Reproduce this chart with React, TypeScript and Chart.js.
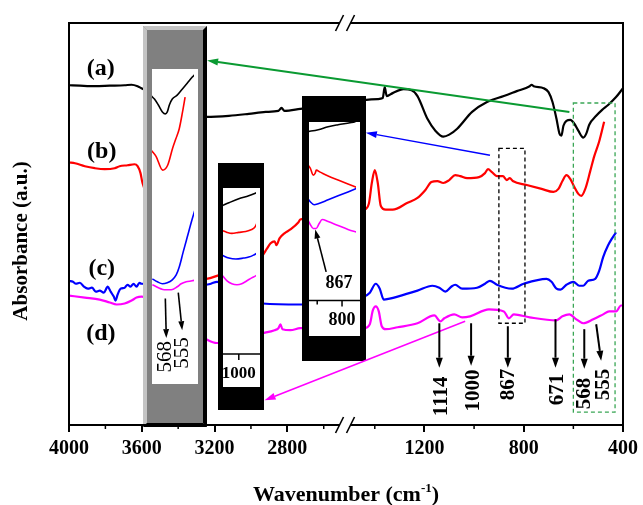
import React, { useEffect, useRef } from 'react';
import { Chart, registerables } from 'chart.js';

Chart.register(...registerables);

const FONT = '"Liberation Serif", "Times New Roman", serif';

// ---------- broken wavenumber axis ----------
const SEG_LEFT = [4000, 2483];
const SEG_RIGHT = [1520, 400];
const SPLIT = 278 / 558;

const MAJOR_TICKS = [4000, 3600, 3200, 2800, 1200, 800, 400];
const MAJOR_LABELS = ['4000', '3600', '3200', '2800', '1200', '800', '400'];
const MINOR_TICKS = [3800, 3400, 3000, 2600, 1400, 1000, 600];

// ---------- main spectra (wavenumber cm-1 / absorbance a.u.) ----------
const W_A = [4000, 3940, 3858, 3776, 3694, 3656, 3623, 3602, 3247, 3121, 3012, 2919, 2849, 2832, 2816, 2729,
  1444, 1388, 1368, 1360, 1352, 1328, 1284, 1252, 1228, 1188, 1156, 1124, 1100, 1068, 1008, 948, 880, 828, 776, 768,
  760, 720, 700, 684, 668, 656, 648, 640, 628, 612, 596, 580, 560, 548, 536, 508, 484, 460, 428, 400];
const A_A = [3.44, 3.435, 3.43, 3.435, 3.44, 3.445, 3.43, 3.41, 3.12, 3.13, 3.15, 3.17, 3.18, 3.21, 3.18, 3.20,
  3.29, 3.30, 3.31, 3.42, 3.33, 3.36, 3.40, 3.39, 3.33, 3.10, 2.98, 2.92, 2.94, 3.00, 3.17, 3.27, 3.33, 3.38, 3.43, 3.445,
  3.43, 3.41, 3.37, 3.27, 3.10, 2.95, 2.93, 3.03, 3.08, 3.09, 3.05, 2.98, 2.91, 2.95, 3.04, 3.13, 3.19, 3.24, 3.32, 3.41];

const W_B = [4000, 3967, 3913, 3858, 3804, 3749, 3722, 3678, 3640, 3623, 3607, 3596, 3247, 3220, 3187,
  2936, 2914, 2892, 2870, 2860, 2843, 2816, 2783, 2740, 2729,
  1444, 1424, 1412, 1400, 1388, 1376, 1356, 1328, 1268, 1228, 1196, 1172, 1148, 1124, 1100, 1076, 1056, 1028, 980, 956,
  944, 928, 908, 884, 868, 856, 844, 788, 728, 680, 660, 644, 628, 612, 596, 580, 568, 552, 532, 516, 496, 476];
const A_B = [2.66, 2.65, 2.62, 2.60, 2.59, 2.60, 2.62, 2.63, 2.64, 2.62, 2.55, 2.45, 1.48, 1.49, 1.51,
  1.72, 1.78, 1.84, 1.86, 1.82, 1.89, 1.94, 1.98, 2.05, 2.08,
  2.18, 2.24, 2.45, 2.58, 2.45, 2.22, 2.18, 2.18, 2.25, 2.30, 2.38, 2.46, 2.47, 2.45, 2.48, 2.53, 2.52, 2.50, 2.51, 2.55,
  2.59, 2.56, 2.52, 2.52, 2.48, 2.50, 2.47, 2.43, 2.39, 2.36, 2.39, 2.47, 2.53, 2.49, 2.41, 2.34, 2.32, 2.39, 2.57, 2.72, 2.87, 3.07];

const W_C = [4000, 3978, 3962, 3940, 3918, 3896, 3874, 3853, 3831, 3809, 3787, 3771, 3754, 3744, 3733, 3716, 3694, 3678,
  3662, 3645, 3629, 3613, 3602, 3247, 3220, 3187, 2936, 2729,
  1444, 1420, 1396, 1380, 1364, 1340, 1308, 1228, 1168, 1140, 1116, 1092, 1076, 1048, 988, 956, 936, 908, 848, 800,
  708, 688, 668, 652, 628, 600, 576, 560, 540, 512, 496, 480, 460, 444, 428];
const A_C = [1.46, 1.45, 1.43, 1.44, 1.40, 1.38, 1.39, 1.35, 1.36, 1.34, 1.40, 1.35, 1.30, 1.26, 1.32, 1.38, 1.39, 1.42,
  1.40, 1.43, 1.40, 1.44, 1.43, 1.42, 1.43, 1.45, 1.23, 1.22,
  1.30, 1.34, 1.43, 1.38, 1.27, 1.28, 1.30, 1.36, 1.41, 1.39, 1.35, 1.40, 1.42, 1.38, 1.39, 1.43, 1.46, 1.42, 1.38, 1.43,
  1.48, 1.45, 1.38, 1.37, 1.42, 1.45, 1.41, 1.41, 1.46, 1.48, 1.56, 1.70, 1.82, 1.89, 1.95];

const W_D = [4000, 3913, 3831, 3776, 3738, 3694, 3656, 3629, 3602, 3247, 3187, 2936, 2870, 2849, 2838, 2827, 2783, 2729,
  1444, 1420, 1408, 1396, 1384, 1372, 1356, 1308, 1228, 1160, 1136, 1120, 1080, 1048, 1016, 940, 880, 860, 840, 776,
  668, 644, 616, 588, 560, 520, 480, 456, 428, 408, 400];
const A_D = [1.31, 1.29, 1.27, 1.24, 1.22, 1.23, 1.26, 1.29, 1.30, 0.87, 0.83, 0.93, 0.96, 0.98, 1.02, 0.97, 0.96, 0.98,
  0.98, 1.02, 1.16, 1.20, 1.15, 1.00, 0.97, 0.99, 1.03, 1.11, 1.05, 1.08, 1.12, 1.09, 1.10, 1.17, 1.15, 1.08, 1.12, 1.09,
  1.06, 1.10, 1.12, 1.07, 1.03, 1.07, 1.12, 1.15, 1.15, 1.21, 1.21];

const SERIES_LABELS = ['(a)', '(b)', '(c)', '(d)'];
const SERIES_COLORS = ['#000000', '#ff0000', '#0000ff', '#ff00ff'];
const LABEL_W = [3825, 3820, 3820, 3825];
const LABEL_A = [3.61, 2.77, 1.58, 0.92];

// ---------- peak markers ----------
const PEAK_LABELS = ['1114', '1000', '867', '671', '568', '555'];
const PEAK_TAIL_W = [1140, 1012, 864, 672, 556, 508];
const PEAK_TAIL_A = [1.03, 1.03, 1.00, 1.07, 0.97, 1.02];
const PEAK_HEAD_W = [1140, 1012, 864, 672, 556, 488];
const PEAK_HEAD_A = [0.58, 0.60, 0.58, 0.58, 0.57, 0.65];
const PEAK_TEXT_W = [1132, 1004, 860, 664, 556, 480];
const PEAK_TEXT_A = [0.29, 0.35, 0.41, 0.36, 0.32, 0.41];

// ---------- zoom regions & pointers ----------
const ZOOM_BOX_W = [[900, 795], [600, 432]];
const ZOOM_BOX_A = [[2.80, 1.03], [3.26, 0.13]];
const ZOOM_BOX_COLORS = ['#000000', '#3aa655'];
const POINTER_TAIL_W = [616, 936, 1036];
const POINTER_TAIL_A = [3.17, 2.73, 1.05];
const POINTER_HEAD_W = [3241, 1436, 2925];
const POINTER_HEAD_A = [3.69, 2.96, 0.25];
const POINTER_COLORS = ['#0a9a32', '#0000ff', '#ff00ff'];

// ---------- inset: 600-500 region (grey frame) ----------
const GW_A = [579.4, 576.9, 573.7, 570.4, 568, 566.4, 564.7, 562.3, 558.3, 554.2, 550.1, 546.1, 542];
const GA_A = [3.33, 3.30, 3.24, 3.17, 3.15, 3.17, 3.24, 3.30, 3.34, 3.40, 3.46, 3.52, 3.57];
const GW_B = [579.4, 575.6, 570.2, 566.1, 562.1, 559.3, 556.6, 553.9, 551.8];
const GA_B = [2.78, 2.72, 2.58, 2.63, 2.80, 2.90, 3.00, 3.17, 3.32];
const GW_C = [578.6, 574.5, 570.4, 566.4, 562.3, 559.1, 556.6, 553.4, 550.1, 546.1, 542];
const GA_C = [1.48, 1.45, 1.43, 1.44, 1.47, 1.52, 1.60, 1.75, 1.90, 2.08, 2.25];
const GW_D = [578.6, 568.8, 563.1, 558.2, 555, 550.9, 546.1, 542.8];
const GA_D = [1.42, 1.37, 1.37, 1.40, 1.43, 1.45, 1.46, 1.47];
const G_MARK_LABELS = ['568', '555'];
const G_MARK_TAIL_W = [568, 557.4];
const G_MARK_TAIL_A = [1.28, 1.34];
const G_MARK_HEAD_W = [567.2, 554.2];
const G_MARK_HEAD_A = [0.88, 0.96];
const G_MARK_TEXT_W = [567.6, 553.8];
const G_MARK_TEXT_A = [0.69, 0.73];

// ---------- inset: ~1000 region (small black frame) ----------
const SW_A = [1046, 1027, 1000, 973, 946];
const SA_A = [2.22, 2.25, 2.29, 2.32, 2.36];
const SW_B = [1046, 1032, 1019, 1000, 981, 965, 957, 951, 946];
const SA_B = [1.97, 1.95, 1.94, 1.95, 1.96, 1.98, 2.00, 2.04, 2.08];
const SW_C = [1046, 1027, 1008, 987, 973, 960, 946];
const SA_C = [1.72, 1.69, 1.68, 1.69, 1.70, 1.72, 1.75];
const SW_D = [1046, 1032, 1019, 1005, 992, 978, 965, 954, 946];
const SA_D = [1.52, 1.46, 1.43, 1.42, 1.43, 1.46, 1.49, 1.51, 1.53];
const S_TICKS = [1000];
const S_TICK_LABELS = ['1000'];
const S_MINOR: number[] = [];

// ---------- inset: ~867 region (large black frame) ----------
const LW_A = [870, 848, 828, 808, 784, 774, 768];
const LA_A = [2.97, 2.99, 3.02, 3.04, 3.06, 3.07, 3.09];
const LW_B = [870, 864, 858, 854, 852, 844, 828, 808, 788, 768];
const LA_B = [2.64, 2.60, 2.53, 2.55, 2.58, 2.56, 2.52, 2.48, 2.44, 2.40];
const LW_C = [870, 864, 856, 848, 828, 808, 788, 768];
const LA_C = [2.30, 2.26, 2.23, 2.24, 2.28, 2.32, 2.36, 2.40];
const LW_D = [870, 864, 858, 852, 846, 840, 828, 808, 788, 768];
const LA_D = [2.09, 2.03, 1.99, 1.99, 2.04, 2.08, 2.06, 2.02, 1.98, 1.95];
const L_TICKS = [900, 800];
const L_TICK_LABELS = ['900', '800'];
const L_MINOR = [850];
const L_MARK_TAIL = [832, 1.55];
const L_MARK_HEAD = [854, 1.98];
const L_MARK_TEXT = [806, 1.43];

// ---------- layout (pixels) ----------
const PLOT = { left: 69, right: 627, top: 23, bottom: 430 };
const INSETS = {
  xg: { outer: { l: 143, t: 26, r: 207, b: 427 }, inner: { l: 152, t: 69, r: 198, b: 384 }, win: [579.4, 542], style: 'grey' },
  xs: { outer: { l: 218, t: 163, r: 264, b: 410 }, inner: { l: 223, t: 188, r: 260, b: 387 }, win: [1046, 946], style: 'black', axisA: 0.72 },
  xl: { outer: { l: 302, t: 96, r: 366, b: 361 }, inner: { l: 309, t: 122, r: 360, b: 336 }, win: [870, 768], style: 'black', axisA: 1.26 },
};

function toU(w: number) {
  if (w >= SEG_LEFT[1]) return ((SEG_LEFT[0] - w) / (SEG_LEFT[0] - SEG_LEFT[1])) * SPLIT;
  if (w <= SEG_RIGHT[0]) return SPLIT + ((SEG_RIGHT[0] - w) / (SEG_RIGHT[0] - SEG_RIGHT[1])) * (1 - SPLIT);
  return SPLIT;
}

function insetScale(key: string) {
  const ins = (INSETS as any)[key];
  const slope = (ins.win[1] - ins.win[0]) / (ins.inner.r - ins.inner.l);
  const atL = ins.win[0] + (PLOT.left - ins.inner.l) * slope;
  const atR = ins.win[0] + (PLOT.right - ins.inner.l) * slope;
  return { type: 'linear', display: false, reverse: true, min: Math.min(atL, atR), max: Math.max(atL, atR) };
}

function insetClip(key: string) {
  const r = (INSETS as any)[key].inner;
  return { left: PLOT.left - r.l, right: r.r - PLOT.right, top: PLOT.top - r.t, bottom: r.b - PLOT.bottom };
}

const mk = (ws: number[], as: number[], f: (w: number) => number) => ws.map((w, i) => ({ x: f(w), y: as[i] }));

function arrow(ctx: CanvasRenderingContext2D, x1: number, y1: number, x2: number, y2: number, color: string, lw: number, hl: number, hw: number) {
  const ang = Math.atan2(y2 - y1, x2 - x1);
  const bx = x2 - hl * Math.cos(ang);
  const by = y2 - hl * Math.sin(ang);
  ctx.save();
  ctx.strokeStyle = color;
  ctx.lineWidth = lw;
  ctx.beginPath();
  ctx.moveTo(x1, y1);
  ctx.lineTo(bx, by);
  ctx.stroke();
  ctx.fillStyle = color;
  ctx.beginPath();
  ctx.moveTo(x2, y2);
  ctx.lineTo(bx + (hw / 2) * Math.sin(ang), by - (hw / 2) * Math.cos(ang));
  ctx.lineTo(bx - (hw / 2) * Math.sin(ang), by + (hw / 2) * Math.cos(ang));
  ctx.closePath();
  ctx.fill();
  ctx.restore();
}

function poly(ctx: CanvasRenderingContext2D, pts: number[][]) {
  ctx.beginPath();
  ctx.moveTo(pts[0][0], pts[0][1]);
  for (let i = 1; i < pts.length; i++) ctx.lineTo(pts[i][0], pts[i][1]);
  ctx.closePath();
  ctx.fill();
}

function vText(ctx: CanvasRenderingContext2D, text: string, x: number, y: number, font: string) {
  ctx.save();
  ctx.translate(x, y);
  ctx.rotate(-Math.PI / 2);
  ctx.font = font;
  ctx.fillStyle = '#000';
  ctx.textAlign = 'center';
  ctx.textBaseline = 'middle';
  ctx.fillText(text, 0, 0);
  ctx.restore();
}

const figurePlugin = {
  id: 'figure',
  beforeDraw(chart: any) {
    const ctx = chart.ctx;
    ctx.save();
    ctx.fillStyle = '#fff';
    ctx.fillRect(0, 0, chart.width, chart.height);
    ctx.restore();
  },
  afterDatasetDraw(chart: any, args: any) {
    if (args.index !== 0) return;
    const ctx: CanvasRenderingContext2D = chart.ctx;
    const py = (a: number) => chart.scales.y.getPixelForValue(a);
    ctx.save();
    Object.keys(INSETS).forEach((key) => {
      const ins = (INSETS as any)[key];
      const o = ins.outer;
      const bw = 4;
      if (ins.style === 'grey') {
        ctx.fillStyle = '#808080';
        ctx.fillRect(o.l, o.t, o.r - o.l, o.b - o.t);
        ctx.fillStyle = '#c4c4c4';
        poly(ctx, [[o.l, o.t], [o.r, o.t], [o.r - bw, o.t + bw], [o.l + bw, o.t + bw]]);
        poly(ctx, [[o.l, o.t], [o.l + bw, o.t + bw], [o.l + bw, o.b - bw], [o.l, o.b]]);
        ctx.fillStyle = '#000';
        poly(ctx, [[o.r, o.t], [o.r, o.b], [o.r - bw, o.b - bw], [o.r - bw, o.t + bw]]);
        poly(ctx, [[o.l, o.b], [o.r, o.b], [o.r - bw, o.b - bw], [o.l + bw, o.b - bw]]);
      } else {
        ctx.fillStyle = '#000';
        ctx.fillRect(o.l, o.t, o.r - o.l, o.b - o.t);
      }
      const r = ins.inner;
      ctx.fillStyle = '#fff';
      ctx.fillRect(r.l, r.t, r.r - r.l, r.b - r.t);
    });
    // inset axes
    const axes = [
      { key: 'xs', ticks: S_TICKS, labels: S_TICK_LABELS, minor: S_MINOR, font: `bold 17px ${FONT}` },
      { key: 'xl', ticks: L_TICKS, labels: L_TICK_LABELS, minor: L_MINOR, font: `bold 18px ${FONT}` },
    ];
    axes.forEach((ax) => {
      const ins = (INSETS as any)[ax.key];
      const r = ins.inner;
      const sx = chart.scales[ax.key];
      const yA = py(ins.axisA);
      ctx.save();
      ctx.beginPath();
      ctx.rect(r.l, r.t, r.r - r.l, r.b - r.t);
      ctx.clip();
      ctx.strokeStyle = '#000';
      ctx.lineWidth = 1.5;
      ctx.beginPath();
      ctx.moveTo(r.l, yA);
      ctx.lineTo(r.r, yA);
      ctx.stroke();
      ax.ticks.forEach((w: number, i: number) => {
        const x = sx.getPixelForValue(w);
        ctx.beginPath();
        ctx.moveTo(x, yA);
        ctx.lineTo(x, yA + 6);
        ctx.stroke();
        ctx.font = ax.font;
        ctx.fillStyle = '#000';
        ctx.textAlign = 'center';
        ctx.textBaseline = 'middle';
        ctx.fillText(ax.labels[i], x, yA + 20);
      });
      ax.minor.forEach((w: number) => {
        const x = sx.getPixelForValue(w);
        ctx.beginPath();
        ctx.moveTo(x, yA);
        ctx.lineTo(x, yA + 4);
        ctx.stroke();
      });
      ctx.restore();
    });
    ctx.restore();
  },
  afterDatasetsDraw(chart: any) {
    const ctx: CanvasRenderingContext2D = chart.ctx;
    const sx = chart.scales.x;
    const px = (w: number) => sx.getPixelForValue(toU(w));
    const py = (a: number) => chart.scales.y.getPixelForValue(a);
    const { left, right, top, bottom } = chart.chartArea;
    ctx.save();

    // dashed zoom boxes
    ZOOM_BOX_W.forEach((ws, i) => {
      const x1 = px(ws[0]), x2 = px(ws[1]);
      const y1 = py(ZOOM_BOX_A[i][0]), y2 = py(ZOOM_BOX_A[i][1]);
      ctx.save();
      ctx.strokeStyle = ZOOM_BOX_COLORS[i];
      ctx.lineWidth = 1.3;
      ctx.setLineDash([4, 3]);
      ctx.strokeRect(x1, y1, x2 - x1, y2 - y1);
      ctx.restore();
    });

    // pointers to insets
    POINTER_TAIL_W.forEach((w, i) => {
      const lw = i === 0 ? 2 : 1.5;
      arrow(ctx, px(w), py(POINTER_TAIL_A[i]), px(POINTER_HEAD_W[i]), py(POINTER_HEAD_A[i]), POINTER_COLORS[i], lw, 11, 7);
    });

    // peak markers
    PEAK_LABELS.forEach((lab, i) => {
      arrow(ctx, px(PEAK_TAIL_W[i]), py(PEAK_TAIL_A[i]), px(PEAK_HEAD_W[i]), py(PEAK_HEAD_A[i]), '#000', 2, 10, 7);
      vText(ctx, lab, px(PEAK_TEXT_W[i]), py(PEAK_TEXT_A[i]), `bold 21px ${FONT}`);
    });

    // inset markers (grey)
    const sg = chart.scales.xg;
    G_MARK_LABELS.forEach((lab, i) => {
      arrow(ctx, sg.getPixelForValue(G_MARK_TAIL_W[i]), py(G_MARK_TAIL_A[i]), sg.getPixelForValue(G_MARK_HEAD_W[i]), py(G_MARK_HEAD_A[i]), '#000', 1.6, 9, 6);
      vText(ctx, lab, sg.getPixelForValue(G_MARK_TEXT_W[i]), py(G_MARK_TEXT_A[i]), `21px ${FONT}`);
    });
    // inset marker (large)
    const sl = chart.scales.xl;
    arrow(ctx, sl.getPixelForValue(L_MARK_TAIL[0]), py(L_MARK_TAIL[1]), sl.getPixelForValue(L_MARK_HEAD[0]), py(L_MARK_HEAD[1]), '#000', 1.6, 9, 6);
    ctx.font = `bold 18px ${FONT}`;
    ctx.fillStyle = '#000';
    ctx.textAlign = 'center';
    ctx.textBaseline = 'middle';
    ctx.fillText('867', sl.getPixelForValue(L_MARK_TEXT[0]), py(L_MARK_TEXT[1]));

    // series labels
    ctx.font = `bold 24px ${FONT}`;
    SERIES_LABELS.forEach((lab, i) => {
      ctx.fillText(lab, px(LABEL_W[i]), py(LABEL_A[i]));
    });

    // frame
    ctx.strokeStyle = '#000';
    ctx.lineWidth = 2;
    ctx.strokeRect(left, top, right - left, bottom - top);

    // minor ticks
    ctx.lineWidth = 1.5;
    MINOR_TICKS.forEach((w) => {
      const x = px(w);
      ctx.beginPath();
      ctx.moveTo(x, bottom);
      ctx.lineTo(x, bottom + 4);
      ctx.stroke();
    });

    // axis break marks
    const xb = sx.getPixelForValue(SPLIT);
    [top, bottom].forEach((y) => {
      ctx.fillStyle = '#fff';
      ctx.fillRect(xb - 5, y - 2, 10, 4);
      ctx.strokeStyle = '#000';
      ctx.lineWidth = 1.6;
      [xb - 5.5, xb + 5.5].forEach((c) => {
        ctx.beginPath();
        ctx.moveTo(c - 4, y + 8);
        ctx.lineTo(c + 4, y - 8);
        ctx.stroke();
      });
    });

    // axis titles
    ctx.fillStyle = '#000';
    vText(ctx, 'Absorbance (a.u.)', 22, 241, `bold 21px ${FONT}`);
    const t1 = 'Wavenumber (cm';
    const t2 = '-1';
    const t3 = ')';
    const fMain = `bold 22px ${FONT}`;
    const fSup = `bold 13px ${FONT}`;
    ctx.font = fMain;
    const w1 = ctx.measureText(t1).width;
    const w3 = ctx.measureText(t3).width;
    ctx.font = fSup;
    const w2 = ctx.measureText(t2).width;
    const cx = (left + right) / 2;
    const x0 = cx - (w1 + w2 + w3) / 2;
    const base = 501;
    ctx.textAlign = 'left';
    ctx.textBaseline = 'alphabetic';
    ctx.font = fMain;
    ctx.fillText(t1, x0, base);
    ctx.font = fSup;
    ctx.fillText(t2, x0 + w1, base - 9);
    ctx.font = fMain;
    ctx.fillText(t3, x0 + w1 + w2, base);
    ctx.restore();
  },
};

export default function App() {
  const ref = useRef<HTMLCanvasElement>(null);
  useEffect(() => {
    const mainSets = [
      [W_A, A_A], [W_B, A_B], [W_C, A_C], [W_D, A_D],
    ].map(([w, a], i) => ({
      label: SERIES_LABELS[i],
      data: mk(w as number[], a as number[], toU),
      borderColor: SERIES_COLORS[i],
      borderWidth: 2.2,
      pointRadius: 0,
      cubicInterpolationMode: 'monotone',
      order: 2,
    }));
    const insetDefs: [string, number[][][]][] = [
      ['xg', [[GW_A, GA_A], [GW_B, GA_B], [GW_C, GA_C], [GW_D, GA_D]]],
      ['xs', [[SW_A, SA_A], [SW_B, SA_B], [SW_C, SA_C], [SW_D, SA_D]]],
      ['xl', [[LW_A, LA_A], [LW_B, LA_B], [LW_C, LA_C], [LW_D, LA_D]]],
    ];
    const insetSets: any[] = [];
    insetDefs.forEach(([key, series]) => {
      series.forEach(([w, a], i) => {
        insetSets.push({
          label: `${key}-${i}`,
          data: mk(w, a, (v) => v),
          xAxisID: key,
          yAxisID: 'y',
          borderColor: SERIES_COLORS[i],
          borderWidth: 1.6,
          pointRadius: 0,
          cubicInterpolationMode: 'monotone',
          clip: insetClip(key),
          order: 1,
        });
      });
    });

    const chart = new Chart(ref.current as HTMLCanvasElement, {
      type: 'line',
      data: { datasets: [...mainSets, ...insetSets] as any },
      options: {
        responsive: false,
        animation: false,
        devicePixelRatio: 1,
        events: [],
        layout: { padding: { left: PLOT.left, top: PLOT.top, right: 643 - PLOT.right, bottom: 39 } },
        plugins: { legend: { display: false }, tooltip: { enabled: false } },
        scales: {
          x: {
            type: 'linear',
            min: 0,
            max: 1,
            afterBuildTicks: (scale: any) => {
              scale.ticks = MAJOR_TICKS.map((w) => ({ value: toU(w) }));
            },
            ticks: {
              autoSkip: false,
              maxRotation: 0,
              minRotation: 0,
              padding: 5,
              color: '#000',
              font: { family: FONT, size: 20, weight: 'bold' },
              callback: (_v: any, i: number) => MAJOR_LABELS[i],
            },
            grid: { display: true, drawOnChartArea: false, drawTicks: true, tickLength: 7, lineWidth: 2, color: '#000' },
            border: { display: false },
          },
          y: { type: 'linear', min: 0, max: 4.07, display: false },
          xg: insetScale('xg'),
          xs: insetScale('xs'),
          xl: insetScale('xl'),
        } as any,
      },
      plugins: [figurePlugin],
    });
    return () => chart.destroy();
  }, []);
  return (
    <div style={{ position: 'absolute', left: 0, top: 0, width: 643, height: 505, background: '#fff' }}>
      <canvas ref={ref} width={643} height={505} style={{ display: 'block', width: 643, height: 505 }} />
    </div>
  );
}
